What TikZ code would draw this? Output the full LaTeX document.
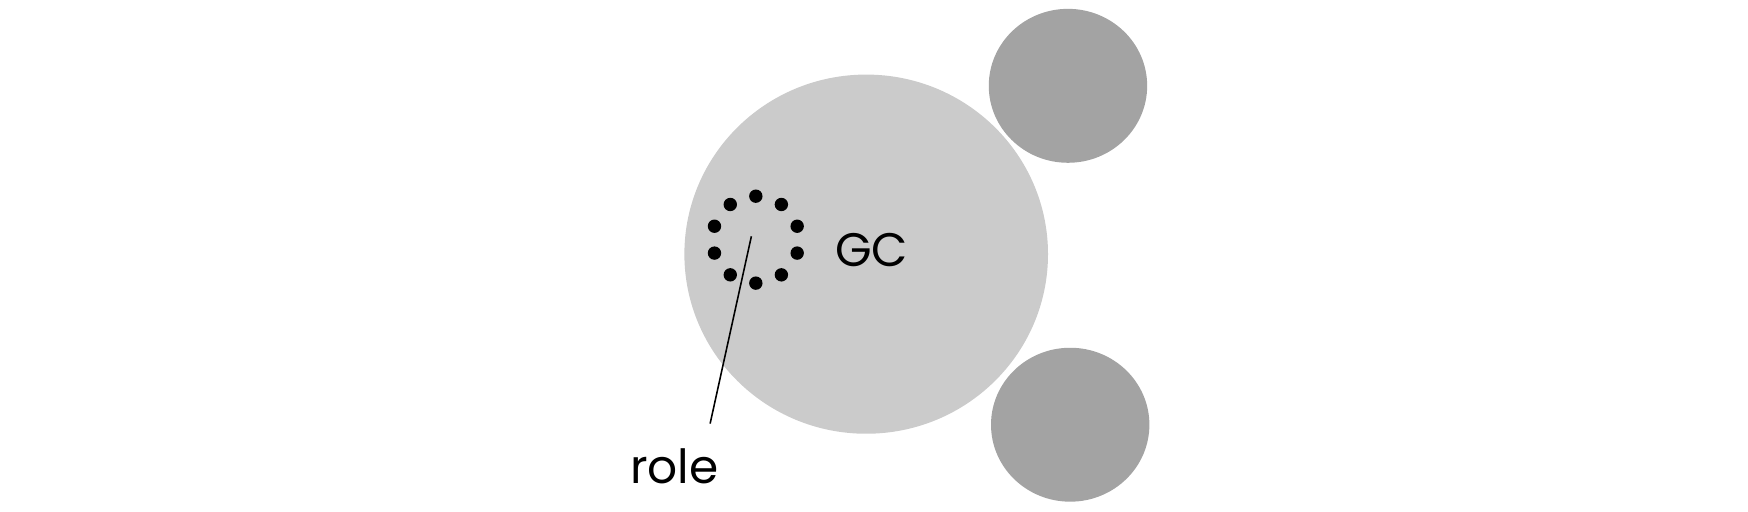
\documentclass[tikz,border=0pt]{standalone}
\usepackage{fontspec}
\setmainfont{Poppins}
\usetikzlibrary{positioning,shapes.geometric,calc}
\definecolor{lightgc}{HTML}{CBCBCB}
\definecolor{darkgc}{HTML}{A3A3A3}

\begin{document}
\begin{tikzpicture} [
	x=0.01cm,y=-0.01cm,
	group/.style={
		ellipse,fill=lightgc,inner sep=0pt},
	peer/.style={
		ellipse,fill=darkgc,inner sep=0pt,
		minimum width=1.42cm,minimum height=1.38cm},
	member/.style={
		circle,fill=black,inner sep=0pt,minimum size=0.12cm},
	lbl/.style={
		font=\fontsize{12}{14}\selectfont}]
\useasboundingbox (0,0) rectangle (1568,459);
\node [group,minimum width=3.26cm,minimum height=3.22cm] (gc) at (777,228) {};
\node [peer]	(peer top) at (958,77) {};
\node [peer]	(peer bottom) at (960,381) {};
\coordinate (ring) at (678,215);
\foreach \i in {0,...,9}
	\node [member] (m\i) at ($(ring)+({90+36*\i}:39)$) {};
\node [lbl]	(gc label) at (782,224) {GC};
\coordinate (pin) at (674,212);
\coordinate (pin end) at (637,380);
\node [lbl,anchor=north]	(role) at (605,390) {role};
\draw[thin] (pin) -- (pin end);
\end{tikzpicture}
\end{document}
